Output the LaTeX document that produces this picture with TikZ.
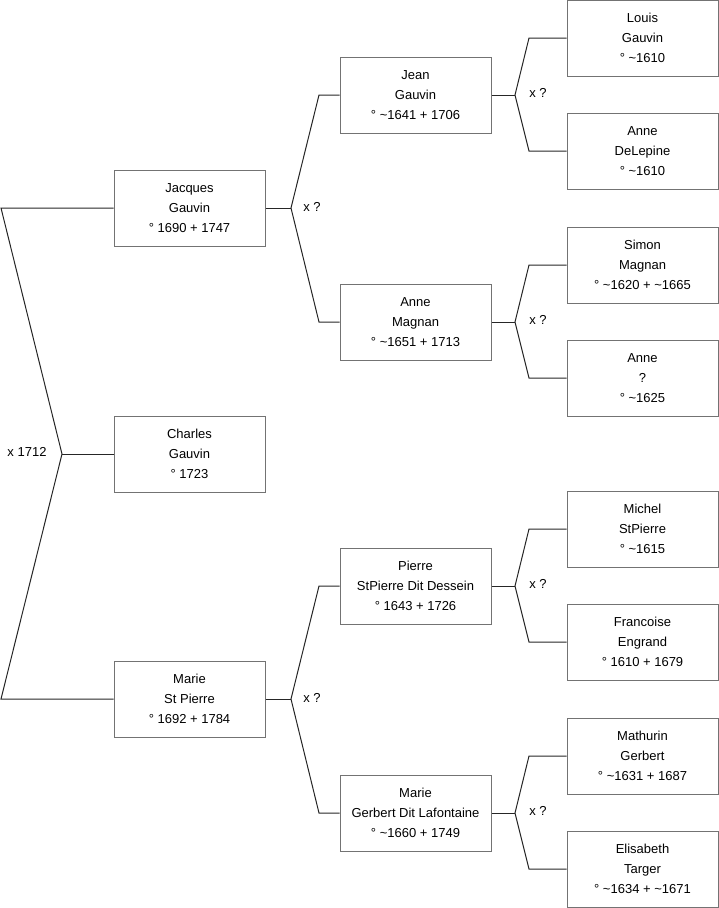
\documentclass[tikz,border=0pt]{standalone}
\usepackage{fontspec}
\setmainfont{Liberation Sans}
\begin{document}
\begin{tikzpicture}[x=1pt,y=-1pt,
  person/.style={draw=black!55, line width=1pt, fill=white, minimum width=151pt, minimum height=76pt, inner sep=0pt, align=center, font=\fontsize{13}{20}\selectfont},
  conn/.style={draw=black!85, line width=1pt},
  lbl/.style={font=\fontsize{13}{16}\selectfont, inner sep=0pt}]
\useasboundingbox (0,0) rectangle (719,908);
% generation 1
\node[person] (jacques) at (189.5,208) {Jacques\\Gauvin\\° 1690 + 1747};
\node[person] (charles) at (189.5,454) {Charles\\Gauvin\\° 1723};
\node[person] (marie) at (189.5,699) {Marie\\St Pierre\\° 1692 + 1784};
% generation 2
\node[person] (jean) at (415.5,95) {Jean\\Gauvin\\° \textasciitilde1641 + 1706};
\node[person] (annem) at (415.5,322) {Anne\\Magnan\\° \textasciitilde1651 + 1713};
\node[person] (pierre) at (415.5,586) {Pierre\\StPierre Dit Dessein\\° 1643 + 1726};
\node[person] (marieg) at (415.5,813) {Marie\\Gerbert Dit Lafontaine\\° \textasciitilde1660 + 1749};
% generation 3
\node[person] (louis) at (642.5,38) {Louis\\Gauvin\\° \textasciitilde1610};
\node[person] (anned) at (642.5,151) {Anne\\DeLepine\\° \textasciitilde1610};
\node[person] (simon) at (642.5,265) {Simon\\Magnan\\° \textasciitilde1620 + \textasciitilde1665};
\node[person] (anneq) at (642.5,378) {Anne\\?\\° \textasciitilde1625};
\node[person] (michel) at (642.5,529) {Michel\\StPierre\\° \textasciitilde1615};
\node[person] (francoise) at (642.5,642) {Francoise\\Engrand\\° 1610 + 1679};
\node[person] (mathurin) at (642.5,756) {Mathurin\\Gerbert\\° \textasciitilde1631 + 1687};
\node[person] (elisabeth) at (642.5,869) {Elisabeth\\Targer\\° \textasciitilde1634 + \textasciitilde1671};
% bracket: Jacques x Marie
\coordinate (k0) at (62,454);
\coordinate (k0t) at (1,208);
\coordinate (k0b) at (1,699);
\draw[conn] (jacques.west) -- (k0t) -- (k0) -- (k0b) -- (marie.west);
\draw[conn] (k0) -- (charles.west);
\node[lbl] (m0) at (27,452) {x 1712};
% bracket: Jean x Anne Magnan -> Jacques
\coordinate (k1) at (291,208);
\coordinate (k1t) at (319,95);
\coordinate (k1b) at (319,322);
\draw[conn] (jean.west) -- (k1t) -- (k1) -- (k1b) -- (annem.west);
\draw[conn] (jacques.east) -- (k1);
\node[lbl] (m1) at (312,207) {x ?};
% bracket: Pierre x Marie Gerbert -> Marie
\coordinate (k2) at (291,699);
\coordinate (k2t) at (319,586);
\coordinate (k2b) at (319,813);
\draw[conn] (pierre.west) -- (k2t) -- (k2) -- (k2b) -- (marieg.west);
\draw[conn] (marie.east) -- (k2);
\node[lbl] (m2) at (312,698) {x ?};
% bracket: Louis x Anne DeLepine -> Jean
\coordinate (k3) at (515,95);
\coordinate (k3t) at (529,38);
\coordinate (k3b) at (529,151);
\draw[conn] (louis.west) -- (k3t) -- (k3) -- (k3b) -- (anned.west);
\draw[conn] (jean.east) -- (k3);
\node[lbl] (m3) at (538,93) {x ?};
% bracket: Simon x Anne ? -> Anne Magnan
\coordinate (k4) at (515,322);
\coordinate (k4t) at (529,265);
\coordinate (k4b) at (529,378);
\draw[conn] (simon.west) -- (k4t) -- (k4) -- (k4b) -- (anneq.west);
\draw[conn] (annem.east) -- (k4);
\node[lbl] (m4) at (538,320) {x ?};
% bracket: Michel x Francoise -> Pierre
\coordinate (k5) at (515,586);
\coordinate (k5t) at (529,529);
\coordinate (k5b) at (529,642);
\draw[conn] (michel.west) -- (k5t) -- (k5) -- (k5b) -- (francoise.west);
\draw[conn] (pierre.east) -- (k5);
\node[lbl] (m5) at (538,584) {x ?};
% bracket: Mathurin x Elisabeth -> Marie Gerbert
\coordinate (k6) at (515,813);
\coordinate (k6t) at (529,756);
\coordinate (k6b) at (529,869);
\draw[conn] (mathurin.west) -- (k6t) -- (k6) -- (k6b) -- (elisabeth.west);
\draw[conn] (marieg.east) -- (k6);
\node[lbl] (m6) at (538,811) {x ?};
\end{tikzpicture}
\end{document}
